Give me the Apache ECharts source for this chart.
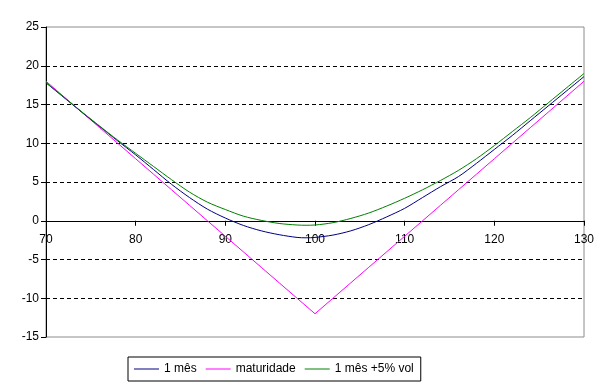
<!DOCTYPE html>
<html>
<head>
<meta charset="utf-8">
<script src="https://cdn.jsdelivr.net/npm/echarts@6/dist/echarts.min.js"></script>
<style>
html,body{margin:0;padding:0;background:#fff;}
#c{width:610px;height:390px;}
</style>
</head>
<body>
<div id="c"></div>
<script>
const spots = [70,72,74,76,78,80,82,84,86,88,90,92,94,96,98,99,100,102,104,106,108,110,112,114,116,118,120,122,124,126,128,130];
const umMes = [17.8,15.9,14.0,12.15,10.3,8.5,6.6,4.7,3.0,1.5,0.35,-0.6,-1.3,-1.8,-2.15,-2.2,-2.15,-1.85,-1.3,-0.5,0.5,1.6,3.0,4.4,5.7,7.4,9.2,11.0,12.9,14.8,16.7,18.6];
const maturidade = [18,16,14,12,10,8,6,4,2,0,-2,-4,-6,-8,-10,-11,-12,-10,-8,-6,-4,-2,0,2,4,6,8,10,12,14,16,18];
const umMesVol = [17.85,15.95,14.05,12.2,10.4,8.7,7.0,5.3,3.7,2.4,1.45,0.6,0.05,-0.35,-0.55,-0.58,-0.55,-0.25,0.3,1.0,1.9,2.9,4.0,5.2,6.5,8.0,9.7,11.5,13.3,15.2,17.1,19.0];
const seriesNames = ['1 mês','maturidade','1 mês +5% vol'];
const yTicks = [-15,-10,-5,0,5,10,15,20,25];
const xTicks = [70,80,90,100,110,120,130];

const pairs = arr => spots.map((s,i)=>[s,arr[i]]);
const font = 'Liberation Sans, Arial, sans-serif';
const gridTop = 27, gridBottom = 53, chartH = 390;
const plotH = chartH - gridTop - gridBottom;
const zeroOffset = -plotH * (0 - yTicks[0]) / (yTicks[yTicks.length-1] - yTicks[0]);
const chart = echarts.init(document.getElementById('c'), null, {renderer:'canvas'});
chart.setOption({
  animation:false,
  backgroundColor:'#fff',
  textStyle:{fontFamily:font},
  grid:{left:46,right:26,top:gridTop,bottom:gridBottom,show:true,borderColor:'#8c8c8c',borderWidth:1,containLabel:false},
  xAxis:{type:'value',min:xTicks[0],max:xTicks[xTicks.length-1],interval:10,position:'bottom',offset:zeroOffset,
    axisLine:{show:true,onZero:false,lineStyle:{color:'#000',width:1}},
    axisTick:{show:true,length:5,lineStyle:{color:'#000'}},
    axisLabel:{color:'#000',fontSize:12,margin:13,fontFamily:font},
    splitLine:{show:false}},
  yAxis:{type:'value',min:yTicks[0],max:yTicks[yTicks.length-1],interval:5,
    axisLine:{show:true,lineStyle:{color:'#000',width:1}},
    axisTick:{show:true,length:5,lineStyle:{color:'#000'}},
    axisLabel:{color:'#000',fontSize:12,margin:7,fontFamily:font},
    splitLine:{show:true,showMinLine:false,showMaxLine:false,lineStyle:{color:'#000',type:[4,3],width:1}}},
  legend:{left:128,top:357,padding:[6,7,6,6],itemGap:9,itemWidth:25,itemHeight:1,icon:'rect',
    borderColor:'#000',borderWidth:1,backgroundColor:'#fff',
    textStyle:{color:'#000',fontSize:12,fontFamily:font},
    data:seriesNames},
  series:[
    {name:seriesNames[0],type:'line',data:pairs(umMes),showSymbol:false,symbol:'none',smooth:0.3,lineStyle:{color:'#000080',width:1},itemStyle:{color:'#000080'},z:3},
    {name:seriesNames[1],type:'line',data:pairs(maturidade),showSymbol:false,symbol:'none',smooth:false,lineStyle:{color:'#ff00ff',width:1},itemStyle:{color:'#ff00ff'},z:2},
    {name:seriesNames[2],type:'line',data:pairs(umMesVol),showSymbol:false,symbol:'none',smooth:0.3,lineStyle:{color:'#008000',width:1},itemStyle:{color:'#008000'},z:4}
  ]
});
</script>
</body>
</html>
